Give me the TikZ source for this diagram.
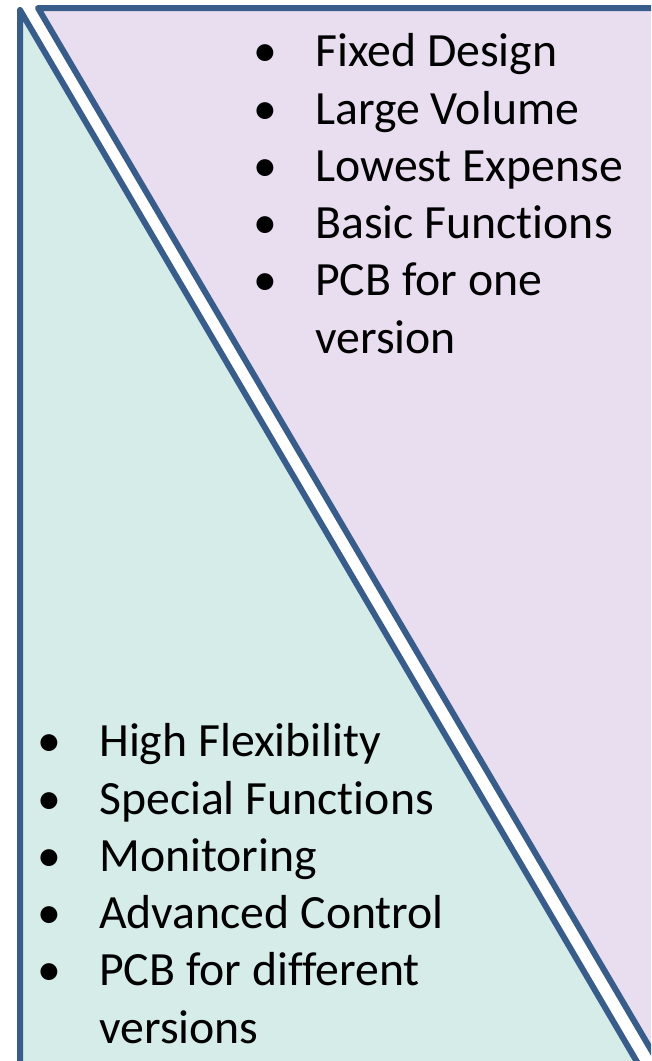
\documentclass[tikz,border=0pt]{standalone}
\usepackage{fontspec}
\setmainfont{Carlito}[Ligatures=NoCommon]
\definecolor{edgeblue}{HTML}{385D8A}
\definecolor{leftfill}{HTML}{D6ECE8}
\definecolor{rightfill}{HTML}{E8DEF0}
\tikzset{
  listtext/.style={anchor=base west, inner sep=0pt, font=\fontsize{35.8}{43}\selectfont},
  bulletmark/.style={anchor=base, inner sep=0pt, font=\fontsize{35.8}{43}\selectfont},
  side/.style={draw=edgeblue, line width=4.5pt, line join=round}
}

\begin{document}
\begin{tikzpicture}[x=0.75pt,y=-0.75pt]
  \useasboundingbox (0,0) rectangle (651,1061);
  \begin{scope}
    \clip (0,0) rectangle (651,1061);
    % the two halves, cut along the diagonal
    \filldraw[side, fill=leftfill] (20,10) -- (20,1200) -- (718,1200) -- cycle;
    \filldraw[side, fill=rightfill] (38,8) -- (760,8) -- (760,1235) -- cycle;
  \end{scope}
  % fixed version (top right)
  \foreach \txt [count=\i] in {Fixed Design, Large Volume, Lowest Expense, Basic Functions, PCB for one} {
    \node[bulletmark] (fixbul\i) at (265,9.4+57.3*\i) {•};
    \node[listtext] (fix\i) at (315,9.4+57.3*\i) {\txt};
  }
  \node[listtext] (fix6) at (315,353.2) {version};
  % flexible version (bottom left)
  \foreach \txt [count=\i] in {High Flexibility, Special Functions, Monitoring, Advanced Control, PCB for different} {
    \node[bulletmark] (flexbul\i) at (49,699.4+57.3*\i) {•};
    \node[listtext] (flex\i) at (99,699.4+57.3*\i) {\txt};
  }
  \node[listtext] (flex6) at (99,1043.3) {versions};
\end{tikzpicture}
\end{document}
